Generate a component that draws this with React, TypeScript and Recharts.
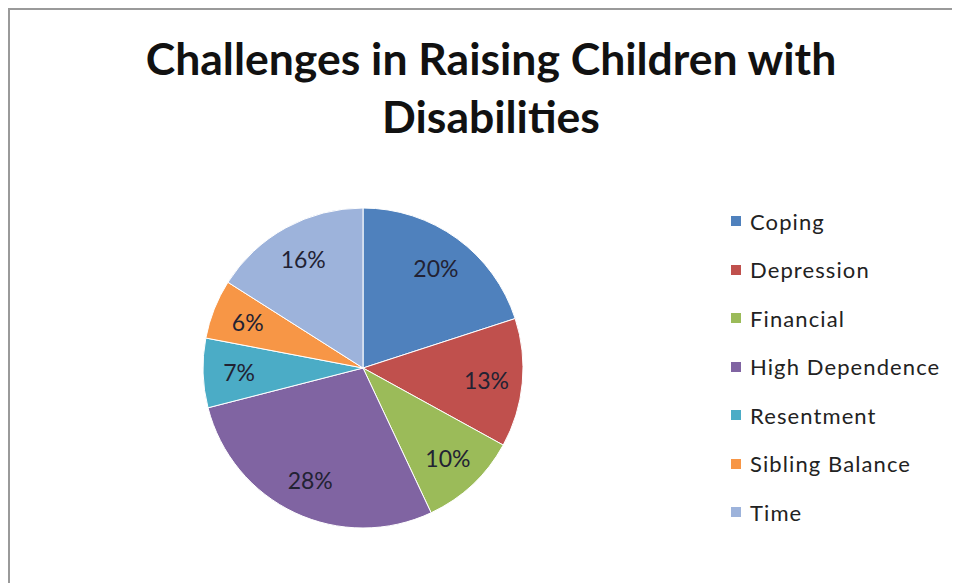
import React from "react";
import { PieChart, Pie, Cell, Legend } from "recharts";

const categories = ["Coping", "Depression", "Financial", "High Dependence", "Resentment", "Sibling Balance", "Time"];
const values = [20, 13, 10, 28, 7, 6, 16];
const colors = ["#4F81BD", "#C0504D", "#9BBB59", "#8064A2", "#4BACC6", "#F79646", "#9DB3DB"];
const titleLines = ["Challenges in Raising Children with", "Disabilities"];

const data = categories.map((name, i) => ({ name, value: values[i] }));

const RAD = Math.PI / 180;
const FONT = "Lato, 'Open Sans', sans-serif";

const renderLabel = (props: any) => {
  const { cx, cy, midAngle, outerRadius, percent } = props;
  const r = outerRadius * 0.775;
  const x = cx + r * Math.cos(-midAngle * RAD);
  const y = cy + r * Math.sin(-midAngle * RAD);
  return (
    <text x={x} y={y} textAnchor="middle" dominantBaseline="central" fill="#222233" fontSize={23} fontFamily={FONT}>
      {`${Math.round(percent * 100)}%`}
    </text>
  );
};

const renderLegend = (props: any) => {
  const { payload } = props;
  return (
    <div style={{ fontFamily: FONT }}>
      {payload.map((entry: any, i: number) => (
        <div key={i} style={{ display: "flex", alignItems: "center", height: 48.5 }}>
          <span style={{ display: "inline-block", width: 10, height: 10, background: entry.color, marginRight: 9 }} />
          <span style={{ fontSize: 22, color: "#222", letterSpacing: 1.1 }}>{entry.value}</span>
        </div>
      ))}
    </div>
  );
};

export default function App() {
  return (
    <div
      style={{
        position: "relative",
        width: 950,
        height: 573,
        borderTop: "2px solid #9a9a9a",
        borderLeft: "2px solid #9a9a9a",
        background: "#fff",
      }}
    >
      <div
        style={{
          position: "absolute",
          left: 0,
          top: 19,
          width: 962,
          textAlign: "center",
          fontFamily: FONT,
          fontWeight: 700,
          fontSize: 44.5,
          lineHeight: "58px",
          color: "#111",
        }}
      >
        {titleLines.map((t, i) => (
          <div key={i}>{t}</div>
        ))}
      </div>
      <PieChart width={950} height={573} style={{ position: "absolute", left: 0, top: 0 }}>
        <Pie
          data={data}
          dataKey="value"
          nameKey="name"
          cx={348}
          cy={353}
          outerRadius={160}
          startAngle={90}
          endAngle={-270}
          stroke="#ffffff"
          strokeWidth={1}
          label={renderLabel}
          labelLine={false}
          isAnimationActive={false}
        >
          {data.map((d, i) => (
            <Cell key={d.name} fill={colors[i]} />
          ))}
        </Pie>
        <Legend
          layout="vertical"
          content={renderLegend}
          wrapperStyle={{ left: 721, top: 187, width: 240 }}
        />
      </PieChart>
    </div>
  );
}
